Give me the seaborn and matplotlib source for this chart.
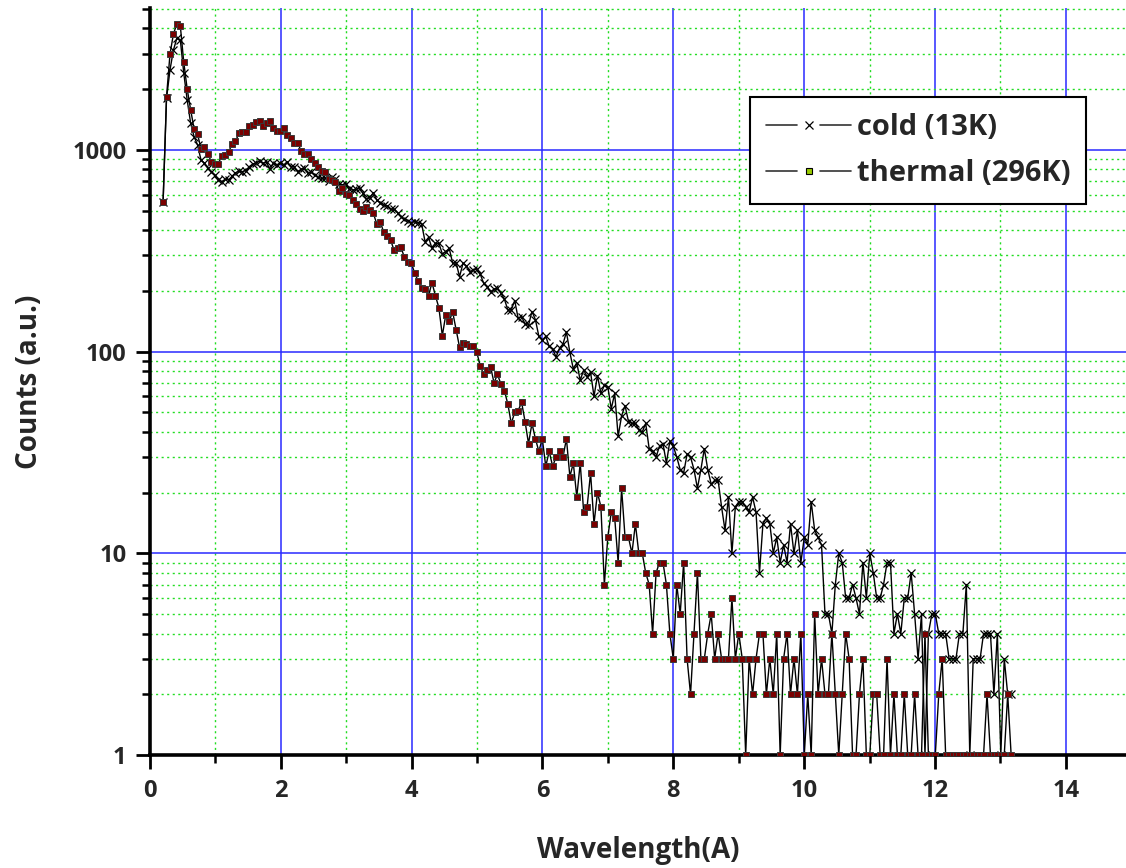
import numpy as np
import pandas as pd
import matplotlib
matplotlib.use("Agg")
import matplotlib.pyplot as plt
import seaborn as sns
from matplotlib.lines import Line2D
from matplotlib.legend_handler import HandlerBase
from matplotlib.ticker import FixedLocator, FixedFormatter, LogLocator, NullFormatter

# ---------------- data ----------------
WL_START = 0.2      # first wavelength sample (A)
WL_STEP = 0.0527    # wavelength bin width (A)

cold_counts = [
    550, 1800, 2489, 3126, 3573, 3508, 2398, 1763, 1353, 1162,
    1057, 891, 859, 810, 780, 751, 709, 696, 714, 709,
    740, 770, 782, 780, 790, 826, 850, 864, 880, 859,
    868, 800, 859, 842, 864, 842, 874, 826, 826, 780,
    800, 810, 765, 775, 751, 732, 722, 727, 704, 732,
    715, 674, 671, 681, 637, 632, 637, 645, 608, 569,
    580, 614, 564, 548, 533, 528, 508, 508, 488, 467,
    455, 445, 436, 441, 436, 430, 350, 368, 325, 344,
    344, 305, 313, 325, 274, 276, 235, 274, 266, 249,
    254, 257, 242, 218, 210, 198, 204, 206, 195, 182,
    161, 161, 179, 146, 149, 137, 135, 158, 144, 119,
    114, 119, 106, 103, 94, 104,
    109, 125, 99, 82, 88, 72, 81, 75, 79, 60,
    76, 62, 68, 67, 52, 62, 38, 48, 54, 45,
    44, 44, 41, 40, 44, 33, 32, 30, 34, 35,
    28, 36, 34, 30, 26, 25, 31, 30, 26, 21,
    26, 33, 26, 22, 23, 23, 17, 13, 19, 10,
    17, 18, 18, 17, 16, 19, 16,
    8, 14, 15, 14, 10, 12,
    9, 11, 9, 14, 10, 13, 9, 12, 11, 18,
    13, 12, 11, 5, 5, 4, 7, 10, 9, 6,
    6, 7, 6, 5, 9, 6, 10, 8, 6, 6,
    7, 9, 9, 4, 5, 4, 6, 6, 8, 5,
    3, 5, 1, 4, 5, 5, 4, 4, 4, 3,
    3, 3, 4, 4, 7, 1, 3, 3, 3, 4,
    4, 4, 2, 4, 1, 3, 2, 2,
]

thermal_counts = [
    550, 1836, 2978, 3756, 4207, 4115, 2718, 1997, 1577, 1270,
    1195, 1013, 1036, 951, 874, 851, 852, 933, 940, 973,
    1069, 1102, 1208, 1220, 1225, 1313, 1330, 1375, 1390, 1318,
    1355, 1385, 1280, 1239, 1239, 1290, 1186, 1141, 1076, 1087,
    991, 954, 951, 900, 857, 818, 785, 775, 720, 706,
    692, 625, 648, 602, 596, 564, 537, 511, 500, 523,
    505, 484, 429, 441, 390, 373, 357, 318, 328, 329,
    293, 279, 275, 244, 224, 207, 205, 189, 220, 189,
    165, 120, 152, 142, 157, 128, 105, 110, 109, 107,
    106, 99, 85, 77, 81, 84, 70, 77, 69, 64,
    55, 44, 50, 51, 56, 45, 35, 44, 37, 32,
    37, 27, 32, 27, 30, 32, 30, 37, 24, 28,
    19, 28, 16, 17, 25, 14, 20, 17, 7, 12,
    16, 15, 9, 21, 12, 12, 10, 14, 10, 10,
    8, 7, 4, 8, 9, 9, 7, 4, 3, 7,
    5, 9, 3, 2, 4, 8, 3, 3, 4, 5,
    3, 4, 3, 3, 3, 6, 3, 4, 3, 1,
    3, 2, 3, 4, 4, 2, 3, 2, 4, 1,
    3, 4, 2, 3, 2, 4, 1, 2, 1, 5,
    2, 3, 2, 2, 4, 2, 1, 2, 4, 3,
    1, 1, 2, 3, 1, 1, 2, 2, 1, 1,
    3, 1, 2, 1, 1, 2, 1, 1, 2, 1,
    1, 4, 1, 1, 1, 2, 3, 1, 1, 1,
    1, 1, 1, 1, 1, 1, 1, 1, 1, 2,
    1, 1, 1, 1, 1, 2, 1,
]

series_labels = ["cold (13K)", "thermal (296K)"]
x_major_ticks = [0, 2, 4, 6, 8, 10, 12, 14]
x_minor_ticks = [1, 3, 5, 7, 9, 11, 13]
y_major_ticks = [1, 10, 100, 1000]
y_tick_labels = ["1", "10", "100", "1000"]
x_label = "Wavelength(A)"
y_label = "Counts (a.u.)"

# ---------------- build frames ----------------
wl_cold = WL_START + WL_STEP * np.arange(len(cold_counts))
wl_therm = WL_START + WL_STEP * np.arange(len(thermal_counts))
df_cold = pd.DataFrame({"wl": wl_cold, "counts": cold_counts})
df_therm = pd.DataFrame({"wl": wl_therm, "counts": thermal_counts})

# ---------------- figure ----------------
sns.set_theme(style="white")
plt.rcParams["font.family"] = ["Open Sans", "DejaVu Sans"]
plt.rcParams["font.weight"] = "bold"

W, H = 1126, 868
fig = plt.figure(figsize=(W / 100, H / 100), dpi=100)
ax = fig.add_axes([150 / W, 113 / H, (W - 150) / W, 747 / H])

sns.lineplot(data=df_cold, x="wl", y="counts", ax=ax, color="black", lw=1.0,
             marker="x", markersize=5.5, markeredgewidth=0.9,
             markeredgecolor="black", errorbar=None, sort=False, zorder=3)
sns.lineplot(data=df_therm, x="wl", y="counts", ax=ax, color="black", lw=1.0,
             marker="s", markersize=5.0, markerfacecolor="#7a0000",
             markeredgecolor="#3a3a3a", markeredgewidth=0.7,
             errorbar=None, sort=False, zorder=4)

ax.set_yscale("log")
ax.set_xlim(0, 14.92)
ax.set_ylim(1, 5050)

ax.xaxis.set_major_locator(FixedLocator(x_major_ticks))
ax.xaxis.set_minor_locator(FixedLocator(x_minor_ticks))
ax.yaxis.set_major_locator(FixedLocator(y_major_ticks))
ax.yaxis.set_major_formatter(FixedFormatter(y_tick_labels))
ax.yaxis.set_minor_locator(LogLocator(base=10, subs=np.arange(2, 10)))
ax.yaxis.set_minor_formatter(NullFormatter())

ax.set_axisbelow(True)
ax.grid(which="major", color="#2a2aff", lw=1.1, ls="-")
ax.grid(which="minor", color="#22dd22", lw=1.0, ls=(0, (1.5, 2.5)))

for side in ["top", "right"]:
    ax.spines[side].set_visible(False)
for side in ["left", "bottom"]:
    ax.spines[side].set_color("black")
    ax.spines[side].set_linewidth(2.6)

ax.tick_params(which="major", direction="out", length=10, width=2.0,
               color="black", labelsize=17, pad=7, bottom=True, left=True)
ax.tick_params(which="minor", direction="out", length=5.5, width=1.8,
               color="black", bottom=True, left=True)
for lbl in ax.get_xticklabels() + ax.get_yticklabels():
    lbl.set_fontweight("bold")

ax.set_xlabel(x_label, fontsize=20, fontweight="bold", labelpad=24)
ax.set_ylabel(y_label, fontsize=20, fontweight="bold", labelpad=20)


# ---------------- legend with gapped line samples ----------------
class GapHandler(HandlerBase):
    def create_artists(self, legend, orig_handle, xdescent, ydescent,
                       width, height, fontsize, trans):
        y = height / 2.0 - ydescent
        x0 = -xdescent
        l1 = Line2D([x0, x0 + width * 0.36], [y, y], color="#333333", lw=1.2)
        l2 = Line2D([x0 + width * 0.64, x0 + width], [y, y], color="#333333", lw=1.2)
        m = Line2D([x0 + width / 2.0], [y], ls="none",
                   marker=orig_handle.get_marker(),
                   markersize=orig_handle.get_markersize(),
                   markerfacecolor=orig_handle.get_markerfacecolor(),
                   markeredgecolor=orig_handle.get_markeredgecolor(),
                   markeredgewidth=orig_handle.get_markeredgewidth())
        for a in (l1, l2, m):
            a.set_transform(trans)
        return [l1, l2, m]


h_cold = Line2D([], [], marker="x", markersize=5.5, markeredgecolor="black",
                markeredgewidth=0.9, color="black")
h_therm = Line2D([], [], marker="s", markersize=4.4, markerfacecolor="#99cc00",
                 markeredgecolor="black", markeredgewidth=0.8, color="black")
leg = ax.legend([h_cold, h_therm], series_labels,
                handler_map={Line2D: GapHandler()},
                loc="upper left", bbox_to_anchor=(0.615, 0.881),
                borderaxespad=0, frameon=True, fancybox=False, shadow=False,
                prop={"size": 21, "weight": "bold"},
                handlelength=2.9, handletextpad=0.2,
                borderpad=0.55, labelspacing=0.6)
leg.get_frame().set_edgecolor("black")
leg.get_frame().set_linewidth(1.5)
leg.get_frame().set_facecolor("white")
leg.get_frame().set_alpha(1)

fig.savefig("out.png", dpi=100)
